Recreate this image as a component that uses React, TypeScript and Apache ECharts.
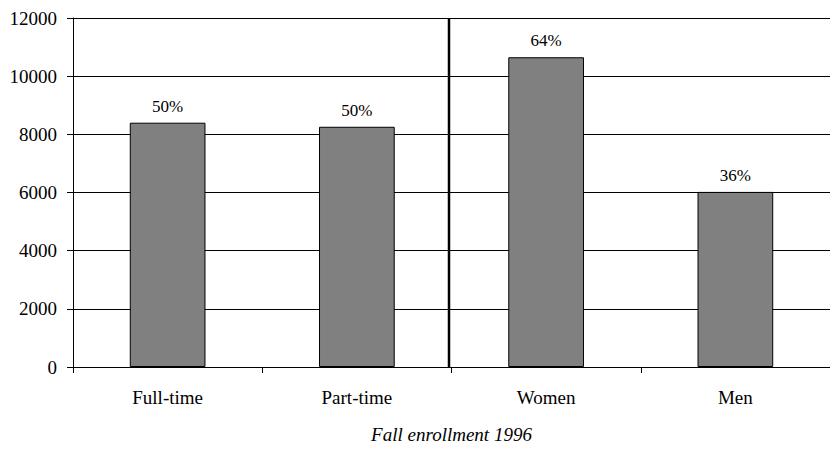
import React, { useEffect, useRef } from "react";
import * as echarts from "echarts";

const categories = ["Full-time", "Part-time", "Women", "Men"];
const enrollment = [8400, 8260, 10650, 6020];
const shareLabels = ["50%", "50%", "64%", "36%"];
const axisTitle = "Fall enrollment 1996";
const yMin = 0;
const yMax = 12000;
const yStep = 2000;

const FONT = "'Liberation Serif', 'Times New Roman', serif";

export default function App() {
  const ref = useRef<HTMLDivElement>(null);

  useEffect(() => {
    if (!ref.current) return;
    const chart = echarts.init(ref.current, undefined, { renderer: "svg" });
    chart.setOption({
      animation: false,
      grid: { left: 73, top: 18, width: 765, height: 354, containLabel: false },
      xAxis: {
        type: "category",
        data: categories,
        name: axisTitle,
        nameLocation: "middle",
        nameGap: 58,
        nameTextStyle: { fontFamily: FONT, fontSize: 19, fontStyle: "italic", color: "#000" },
        axisLine: { lineStyle: { color: "#000", width: 1 } },
        axisTick: { show: true, length: 6, lineStyle: { color: "#000" } },
        axisLabel: { fontFamily: FONT, fontSize: 19, color: "#000", margin: 21 },
        splitLine: { show: false },
      },
      yAxis: {
        type: "value",
        min: yMin,
        max: yMax,
        interval: yStep,
        axisLine: { show: true, lineStyle: { color: "#000", width: 1 } },
        axisTick: { show: true, length: 6, lineStyle: { color: "#000" } },
        axisLabel: {
          fontFamily: FONT,
          fontSize: 19,
          color: "#000",
          margin: 16,
          formatter: (v: number) => String(v),
        },
        splitLine: { show: true, lineStyle: { color: "#000", width: 1 } },
      },
      series: [
        {
          type: "bar",
          data: enrollment,
          barWidth: "40%",
          itemStyle: { color: "#808080", borderColor: "#000", borderWidth: 1 },
          label: {
            show: true,
            position: "top",
            distance: 8,
            fontFamily: FONT,
            fontSize: 17,
            color: "#000",
            formatter: (p: any) => shareLabels[p.dataIndex],
          },
        },
      ],
    });

    // Separator between the enrollment-status and gender groups
    const c1 = chart.convertToPixel({ xAxisIndex: 0 }, 1) as number;
    const c2 = chart.convertToPixel({ xAxisIndex: 0 }, 2) as number;
    const yTop = chart.convertToPixel({ yAxisIndex: 0 }, yMax) as number;
    const yBot = chart.convertToPixel({ yAxisIndex: 0 }, yMin) as number;
    const xSep = (c1 + c2) / 2 - 2.5;
    chart.setOption({
      graphic: [
        {
          type: "line",
          shape: { x1: xSep, y1: yTop, x2: xSep, y2: yBot },
          style: { stroke: "#000", lineWidth: 2.5 },
          z: 100,
        },
      ],
    });

    return () => chart.dispose();
  }, []);

  return (
    <div
      ref={ref}
      style={{ position: "absolute", left: 0, top: 0, width: 830, height: 449, background: "#fff" }}
    />
  );
}
